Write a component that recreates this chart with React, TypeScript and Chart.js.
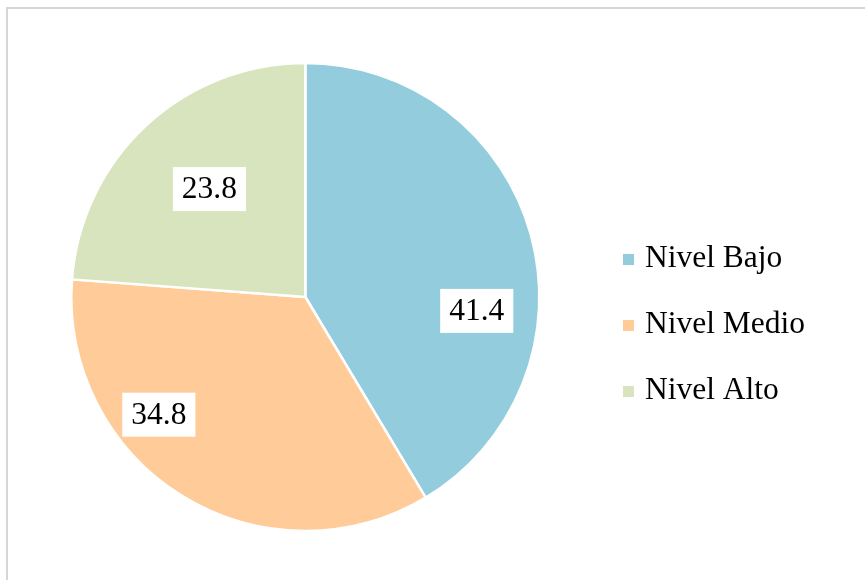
import React, { useEffect, useRef } from "react";
import { Chart, registerables } from "chart.js";

Chart.register(...registerables);

// ---- data ----
const categories = ["Nivel Bajo", "Nivel Medio", "Nivel Alto"];
const values = [41.4, 34.8, 23.8];
const sliceColors = ["#93CDDD", "#FFCC99", "#D7E4BD"];
// label placement inside each slice (fraction of the slice's angle, fraction of radius)
const labelAnglePos = [0.635, 0.656, 0.514];
const labelRadiusPos = [0.735, 0.803, 0.617];

const FONT = '"Liberation Serif", "Times New Roman", serif';
const FONT_SIZE = 31.5;

function swatch(color: string) {
  const c = document.createElement("canvas");
  c.width = 11;
  c.height = 11;
  const ctx = c.getContext("2d")!;
  ctx.fillStyle = color;
  ctx.fillRect(0, 0, 11, 11);
  return c;
}

const labelPlugin = {
  id: "boxLabels",
  afterDatasetsDraw(chart: any) {
    const ctx = chart.ctx;
    const meta = chart.getDatasetMeta(0);
    ctx.save();
    ctx.font = `${FONT_SIZE}px ${FONT}`;
    ctx.textAlign = "center";
    ctx.textBaseline = "middle";
    meta.data.forEach((arc: any, i: number) => {
      const { x, y, startAngle, endAngle, outerRadius } = arc.getProps(
        ["x", "y", "startAngle", "endAngle", "outerRadius"],
        true
      );
      const a = startAngle + (endAngle - startAngle) * labelAnglePos[i];
      const r = outerRadius * labelRadiusPos[i];
      const cx = x + Math.cos(a) * r;
      const cy = y + Math.sin(a) * r;
      const text = values[i].toFixed(1);
      const w = ctx.measureText(text).width + 18;
      const h = 44;
      ctx.fillStyle = "#ffffff";
      ctx.fillRect(cx - w / 2, cy - h / 2, w, h);
      ctx.fillStyle = "#000000";
      ctx.fillText(text, cx, cy + 1);
    });
    ctx.restore();
  },
};

export default function App() {
  const ref = useRef<HTMLCanvasElement>(null);

  useEffect(() => {
    const swatches = sliceColors.map(swatch);
    const chart = new Chart(ref.current as HTMLCanvasElement, {
      type: "pie",
      data: {
        labels: categories,
        datasets: [
          {
            data: values,
            backgroundColor: sliceColors,
            borderColor: "#ffffff",
            borderWidth: 2.5,
            radius: 234,
          } as any,
        ],
      },
      plugins: [labelPlugin],
      options: {
        animation: false,
        responsive: false,
        layout: { padding: { left: 17, right: 50, top: 63, bottom: 49 } },
        plugins: {
          tooltip: { enabled: false },
          legend: {
            position: "right",
            title: {
              display: true,
              text: " ",
              font: { size: 1 },
              padding: { top: 0, bottom: 55 },
            },
            labels: {
              usePointStyle: true,
              boxWidth: 1,
              padding: 34.5,
              color: "#000000",
              font: { family: FONT, size: FONT_SIZE },
              generateLabels: () =>
                categories.map((c, i) => ({
                  text: c,
                  fillStyle: sliceColors[i],
                  strokeStyle: sliceColors[i],
                  fontColor: "#000000",
                  lineWidth: 0,
                  pointStyle: swatches[i],
                  hidden: false,
                  index: i,
                })) as any,
            },
          },
        },
      } as any,
    });
    return () => chart.destroy();
  }, []);

  return (
    <div
      style={{
        position: "absolute",
        left: 0,
        top: 0,
        width: 865,
        height: 580,
        overflow: "hidden",
        background: "#ffffff",
      }}
    >
      <div
        style={{
          position: "absolute",
          left: 6,
          top: 7,
          width: 900,
          height: 700,
          borderTop: "2px solid #d6d6d6",
          borderLeft: "2px solid #d6d6d6",
        }}
      />
      <canvas
        ref={ref}
        width={865}
        height={580}
        style={{ position: "absolute", left: 0, top: 0 }}
      />
    </div>
  );
}
